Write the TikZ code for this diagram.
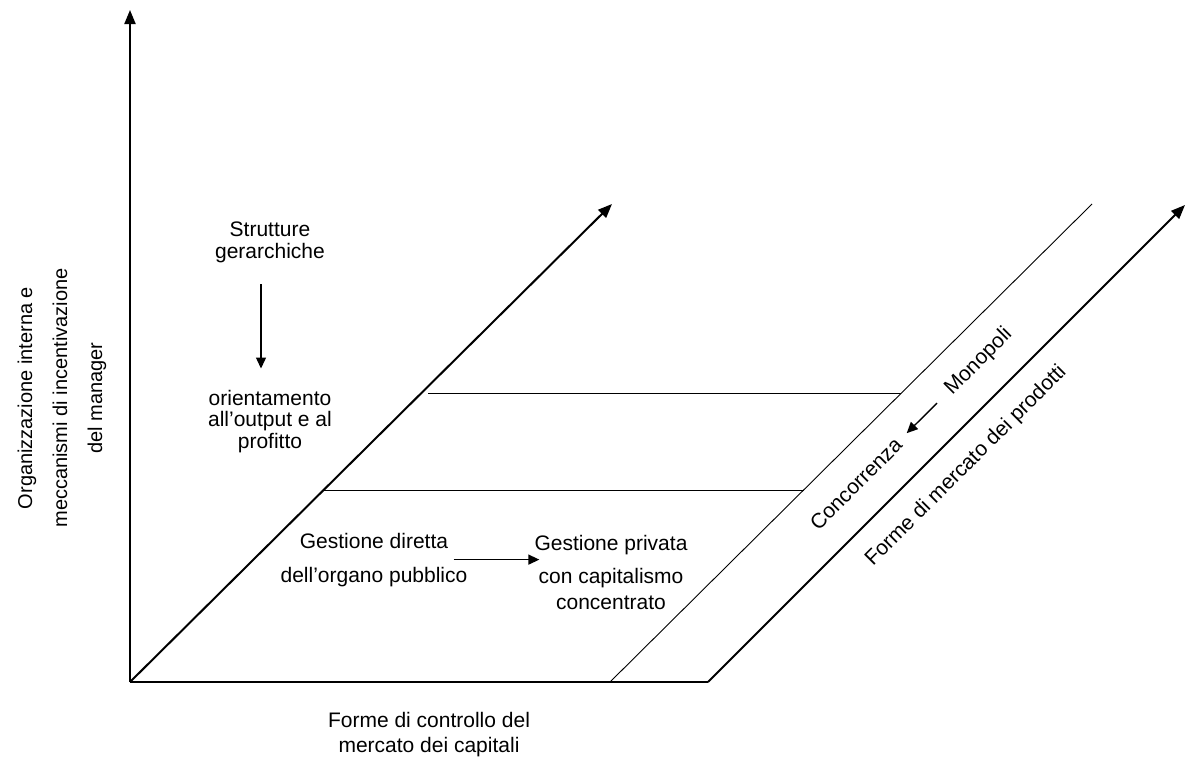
\documentclass[tikz,border=0pt]{standalone}
\usepackage{fontspec}
\setmainfont{Liberation Sans}
\usetikzlibrary{arrows.meta, calc}
\tikzset{
  axis/.style={
    line width=2pt, -{Triangle[length=14pt, width=11pt]}
  },
  edge/.style={
    line width=2pt
  },
  guide/.style={
    line width=0.9pt
  },
  shift arrow/.style={
    line width=1.4pt, -{Triangle[length=11pt, width=10pt]}
  },
  txt/.style={
    align=center, inner sep=0pt, font=\fontsize{21}{#1}\selectfont
  },
  txt/.default=22
}

\begin{document}
\begin{tikzpicture}[x=1pt, y=-1pt]

  \useasboundingbox (0,0) rectangle (1185,766);

  % Axes
  \coordinate (O) at (130,682);
  \coordinate (ytip) at (130,10);
  \coordinate (ztip) at (612,204);
  \coordinate (a0) at (610,682);
  \coordinate (a1) at (1092,204);
  \coordinate (b0) at (708,682);
  \coordinate (btip) at (1185,205);

  \draw[axis] (O) -- (ytip);
  \draw[axis] (O) -- (ztip);
  \draw[edge] (O) -- (b0);
  \draw[guide] (a0) -- (a1);
  \draw[axis] (b0) -- (btip);

  % Guides
  \coordinate (g1a) at (428,393);
  \coordinate (g1b) at (901,393);
  \coordinate (g2a) at (324,490);
  \coordinate (g2b) at (804,490);
  \draw[guide] (g1a) -- (g1b);
  \draw[guide] (g2a) -- (g2b);

  % Axis titles
  \node[txt=35, rotate=90, font=\fontsize{20}{35}\selectfont] (ylab) at (62,398) {Organizzazione interna e\\meccanismi di incentivazione\\del manager};
  \node[txt=25] (xlab) at (429,735) {Forme di controllo del\\mercato dei capitali};
  \node[txt, rotate=45, anchor=base] (prod) at (970,470) {Forme di mercato dei prodotti};

  % Organisation
  \node[txt] (strutt) at (270,242.7) {Strutture\\gerarchiche};
  \node[txt=21.5] (orient) at (270,421.5) {orientamento\\all’output e al\\profitto};
  \draw[shift arrow, shorten <=20.6pt, shorten >=21.5pt]
    ([xshift=-9pt]strutt.south) -- ([xshift=-9pt]orient.north);

  % Capital market
  \node[txt=34] (gdir) at (374,559.6) {Gestione diretta\\dell’organo pubblico};
  \node[txt=33] (gpriv) at (611,572) {Gestione privata\\con capitalismo\\[-7pt]concentrato};
  \draw[shift arrow, shorten >=-5pt]
    ([xshift=-14pt]gdir.east) -- (gdir.east -| gpriv.west);

  % Product market
  \node[txt, rotate=45, anchor=base] (mono) at (982.5,365.5) {Monopoli};
  \node[txt, rotate=45, anchor=base] (conc) at (861,489) {Concorrenza};
  \draw[shift arrow, shorten <=16pt, shorten >=11.5pt] (mono.west) -- (conc.east);

\end{tikzpicture}
\end{document}
